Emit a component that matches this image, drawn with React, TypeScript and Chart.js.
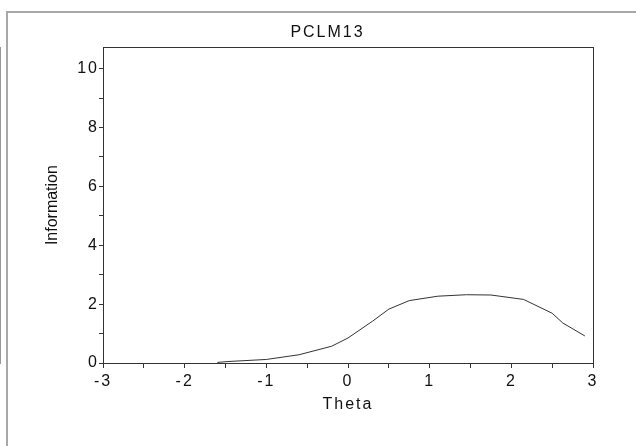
import { useEffect, useRef } from 'react';
import { Chart, registerables } from 'chart.js';

Chart.register(...registerables);

const chartTitle = 'PCLM13';
const xAxisTitle = 'Theta';
const yAxisTitle = 'Information';

const thetaValues = [-1.6, -1.47, -1.0, -0.6, -0.2, 0.0, 0.3, 0.5, 0.75, 1.1, 1.45, 1.75, 2.15, 2.5, 2.63, 2.9];
const informationValues = [0.02, 0.05, 0.12, 0.28, 0.57, 0.85, 1.42, 1.83, 2.12, 2.27, 2.32, 2.31, 2.16, 1.69, 1.36, 0.92];

const xTickLabels = ['-3', '-2', '-1', '0', '1', '2', '3'];
const yTickLabels = ['0', '2', '4', '6', '8', '10'];

const FONT = '"Liberation Sans", Arial, sans-serif';

const framePlugin = {
  id: 'frameBox',
  beforeLayout(chart: any) {
    chart.ctx.letterSpacing = '2px';
  },
  beforeDraw(chart: any) {
    const { ctx, width, height } = chart;
    ctx.save();
    ctx.fillStyle = '#ffffff';
    ctx.fillRect(0, 0, width, height);
    ctx.fillStyle = '#a8a8a8';
    ctx.fillRect(6, 11, width - 6, 2);
    ctx.fillRect(6, 11, 2, height - 11);
    ctx.restore();
    ctx.letterSpacing = '2px';
  },
  afterDatasetsDraw(chart: any) {
    chart.ctx.letterSpacing = '0px';
  },
  afterDraw(chart: any) {
    const { ctx, chartArea: a } = chart;
    ctx.save();
    ctx.strokeStyle = '#333333';
    ctx.lineWidth = 1;
    const l = Math.round(a.left) + 0.5;
    const t = Math.round(a.top) + 0.5;
    const r = Math.round(a.right) + 0.5;
    const b = Math.round(a.bottom) + 0.5;
    ctx.strokeRect(l, t, r - l, b - t);
    ctx.restore();
  },
};

export default function App() {
  const canvasRef = useRef<HTMLCanvasElement | null>(null);

  useEffect(() => {
    const canvas = canvasRef.current;
    if (!canvas) return;
    const points = thetaValues.map((x, i) => ({ x, y: informationValues[i] }));
    const chart = new Chart(canvas, {
      type: 'line',
      data: {
        datasets: [
          {
            data: points,
            borderColor: '#333333',
            borderWidth: 1,
            pointRadius: 0,
            tension: 0,
            fill: false,
          },
        ],
      },
      options: {
        responsive: false,
        animation: false,
        devicePixelRatio: 1,
        layout: { padding: { left: 19, right: 0, top: 0, bottom: 0 } },
        plugins: {
          legend: { display: false },
          tooltip: { enabled: false },
          title: {
            display: true,
            text: chartTitle,
            color: '#111111',
            font: { family: FONT, size: 16, weight: 'normal' },
            padding: { top: 23, bottom: 5 },
          },
        },
        scales: {
          x: {
            type: 'linear',
            min: -3,
            max: 3,
            afterFit: (s: any) => {
              s.height = 83;
            },
            ticks: {
              stepSize: 0.5,
              autoSkip: false,
              maxRotation: 0,
              padding: 4,
              color: '#111111',
              font: { family: FONT, size: 16 },
              callback: (v: any) => {
                const s = String(v);
                return xTickLabels.includes(s) ? s : '';
              },
            },
            grid: {
              drawOnChartArea: false,
              drawTicks: true,
              tickLength: 5,
              color: '#333333',
            },
            border: { display: true, color: '#333333' },
            title: {
              display: true,
              text: xAxisTitle,
              color: '#111111',
              font: { family: FONT, size: 16 },
              padding: { top: 0, bottom: 32 },
            },
          },
          y: {
            type: 'linear',
            min: 0,
            max: 10.73,
            afterFit: (s: any) => {
              s.width = 84;
            },
            ticks: {
              stepSize: 1,
              includeBounds: false,
              autoSkip: false,
              padding: 0,
              color: '#111111',
              font: { family: FONT, size: 16 },
              callback: (v: any) => {
                const s = String(v);
                return yTickLabels.includes(s) ? s : '';
              },
            },
            grid: {
              drawOnChartArea: false,
              drawTicks: true,
              tickLength: 4,
              color: '#333333',
              z: 1,
            },
            border: { display: true, color: '#333333' },
            title: {
              display: true,
              text: yAxisTitle,
              color: '#111111',
              font: { family: FONT, size: 16 },
              padding: { top: 24, bottom: 0 },
            },
          },
          y2: {
            type: 'linear',
            position: 'right',
            min: 0,
            max: 10.73,
            afterFit: (s: any) => {
              s.width = 43;
            },
            ticks: { display: false },
            grid: { display: false, drawTicks: false },
            border: { display: true, color: '#333333' },
          },
        },
      },
      plugins: [framePlugin],
    } as any);
    return () => {
      chart.destroy();
    };
  }, []);

  return (
    <div style={{ position: 'fixed', left: 0, top: 0, width: 636, height: 446, overflow: 'hidden', background: '#ffffff' }}>
      <canvas
        ref={canvasRef}
        width={636}
        height={446}
        style={{ display: 'block', width: 636, height: 446 }}
      />
    </div>
  );
}
